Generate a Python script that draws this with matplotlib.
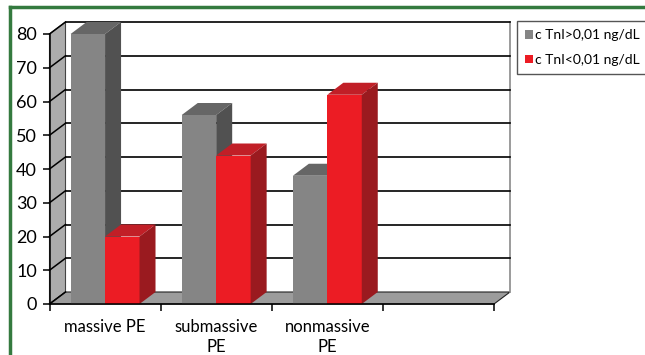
import numpy as np
import matplotlib
matplotlib.use('Agg')
import matplotlib.pyplot as plt
from matplotlib.patches import Polygon

plt.rcParams['font.family'] = ['Lato', 'DejaVu Sans']

# data
categories = ['massive PE', 'submassive\nPE', 'nonmassive\nPE', '']
series_names = ['c TnI>0,01 ng/dL', 'c TnI<0,01 ng/dL']
tni_high = [80, 56, 38]
tni_low = [20, 44, 62]

front_cols = ['#858585', '#ec1c24']
top_cols = ['#666666', '#c11f27']
side_cols = ['#515151', '#9a1a1f']

W, H = 645, 355
fig = plt.figure(figsize=(W / 100, H / 100), dpi=100)
# front plane of the 3d box
x0, x1, y0, y1 = 49.5, 494, 304, 34
ax = fig.add_axes([x0 / W, (H - y0) / H, (x1 - x0) / W, (y0 - y1) / H])
ax.set_xlim(0, 4)
ax.set_ylim(0, 80)
ax.patch.set_alpha(0)

dx = 16 / ((x1 - x0) / 4)      # depth offset in category units
dy = 12 / ((y0 - y1) / 80)     # depth offset in value units

# walls
left_wall = Polygon([(0, 0), (0, 80), (dx, 80 + dy), (dx, dy)], closed=True,
                    facecolor='#acacac', edgecolor='#444444', lw=0.8, clip_on=False, zorder=1)
floor = Polygon([(0, 0), (4, 0), (4 + dx, dy), (dx, dy)], closed=True,
                facecolor='#9c9c9c', edgecolor='#222222', lw=0.8, clip_on=False, zorder=1)
ax.add_patch(left_wall)
ax.add_patch(floor)
ax.plot([4 + dx, 4 + dx], [dy, 80 + dy], color='#8a8a8a', lw=1.2, clip_on=False, zorder=1)

yticks = np.arange(0, 81, 10)
for v in yticks:
    ax.plot([0, dx], [v, v + dy], color='black', lw=1.1, clip_on=False, zorder=2)
    if v > 0:
        ax.plot([dx, 4 + dx], [v + dy, v + dy], color='black', lw=1.2, clip_on=False, zorder=2)

# bars
width = 0.31
centers = np.arange(len(tni_high)) + 0.5
for k, vals in enumerate([tni_high, tni_low]):
    xs = centers - width + k * width
    ax.bar(xs, vals, width=width, align='edge', color=front_cols[k],
           label=series_names[k], zorder=3 + k, clip_on=False)
    for xl, v in zip(xs, vals):
        top = Polygon([(xl, v), (xl + width, v), (xl + width + dx, v + dy), (xl + dx, v + dy)],
                      closed=True, facecolor=top_cols[k], edgecolor='none', zorder=3 + k, clip_on=False)
        side = Polygon([(xl + width, 0), (xl + width, v), (xl + width + dx, v + dy), (xl + width + dx, dy)],
                       closed=True, facecolor=side_cols[k], edgecolor='none', zorder=3 + k, clip_on=False)
        ax.add_patch(top)
        ax.add_patch(side)

# axes
for s in ['top', 'right']:
    ax.spines[s].set_visible(False)
ax.spines['left'].set_linewidth(1.1)
ax.spines['bottom'].set_linewidth(1.1)
ax.spines['left'].set_zorder(6)
ax.spines['bottom'].set_zorder(6)
ax.set_yticks(yticks)
ax.set_yticklabels([str(v) for v in yticks], fontsize=13)
ax.tick_params(axis='y', length=5, width=1.1, pad=4)
ax.set_xticks(np.arange(4) + 0.5)
ax.set_xticklabels(categories, fontsize=12, linespacing=1.3)
ax.set_xticks(np.arange(5), minor=True)
ax.tick_params(axis='x', which='major', length=0, pad=11)
ax.tick_params(axis='x', which='minor', length=5, width=1.1)

fig.legend(loc='upper left', bbox_to_anchor=(517 / W, 1 - 21 / H), fontsize=10,
           frameon=True, fancybox=False, edgecolor='#555555', framealpha=1,
           handlelength=0.55, handleheight=0.55, handletextpad=0.15,
           borderpad=0.6, labelspacing=0.9, borderaxespad=0)

# green frame
fig.add_artist(plt.Line2D([9.5 / W, 1], [1 - 6.5 / H, 1 - 6.5 / H], color='#347a3f', lw=2.5,
                          transform=fig.transFigure))
fig.add_artist(plt.Line2D([9.5 / W, 9.5 / W], [0, 1 - 6.5 / H], color='#347a3f', lw=2.5,
                          transform=fig.transFigure))

fig.savefig('out.png', dpi=100)
